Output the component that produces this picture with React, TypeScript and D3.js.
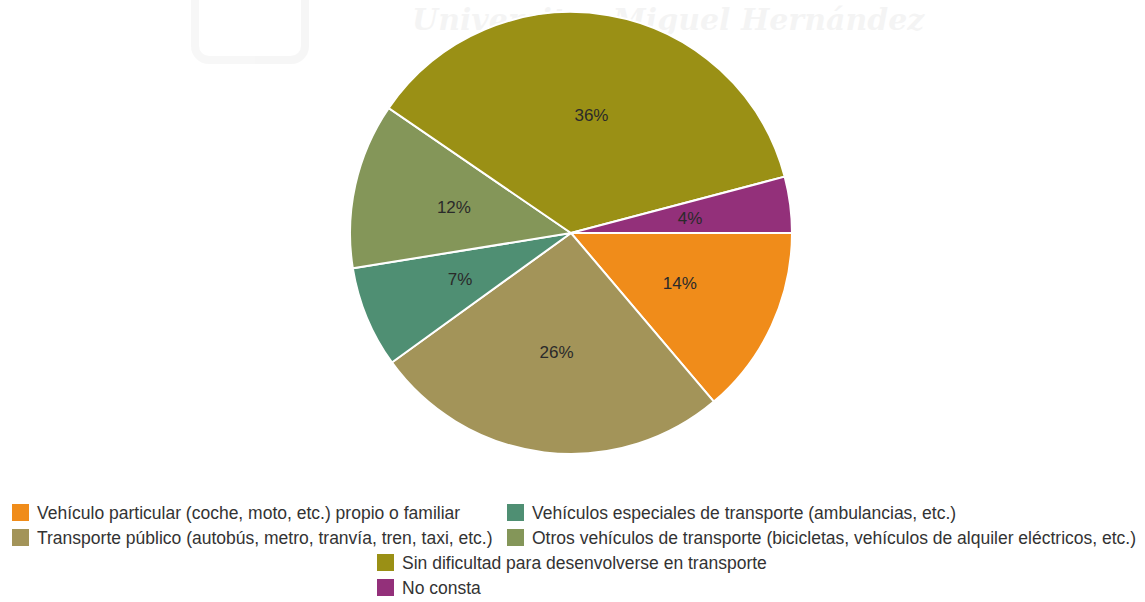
import React from "react";
import * as d3 from "d3";

const categories = [
  "Vehículo particular (coche, moto, etc.) propio o familiar",
  "Transporte público (autobús, metro, tranvía, tren, taxi, etc.)",
  "Vehículos especiales de transporte (ambulancias, etc.)",
  "Otros vehículos de transporte (bicicletas, vehículos de alquiler eléctricos, etc.)",
  "Sin dificultad para desenvolverse en transporte",
  "No consta",
];
const values = [13.8, 26.2, 7.4, 12.1, 36.3, 4.1];
const colors = ["#f08c1a", "#a39459", "#4f8f73", "#849659", "#9a9015", "#93307a"];

// legend layout (order in legend: 0,2 / 1,3 / 4 / 5)
const legendSlots = [
  { idx: 0, x: 12, y: 513 },
  { idx: 2, x: 507, y: 513 },
  { idx: 1, x: 12, y: 538 },
  { idx: 3, x: 507, y: 538 },
  { idx: 4, x: 377, y: 563 },
  { idx: 5, x: 377, y: 588 },
];

export default function App() {
  const W = 1145, H = 602;
  const cx = 571, cy = 233, r = 221;
  const data = values.map((v, i) => ({ v, i }));
  const total = d3.sum(values);
  const pie = d3
    .pie<{ v: number; i: number }>()
    .value((d) => d.v)
    .sort(null)
    .startAngle(Math.PI / 2)
    .endAngle(Math.PI / 2 + 2 * Math.PI);
  const arcs = pie(data);
  const arc = d3.arc<d3.PieArcDatum<{ v: number; i: number }>>().innerRadius(0).outerRadius(r);
  const labelArc = d3.arc<d3.PieArcDatum<{ v: number; i: number }>>().innerRadius(120).outerRadius(120);

  return (
    <svg
      width={W}
      height={H}
      style={{ position: "absolute", left: 0, top: 0, background: "#fff" }}
      fontFamily="Arial, 'Liberation Sans', sans-serif"
    >
      <g opacity={0.06}>
        <rect x={195} y={-20} width={110} height={80} rx={14} fill="none" stroke="#777" strokeWidth={8} />
        <text x={412} y={30} fontSize={30} fontWeight="bold" fontStyle="italic" fill="#555" fontFamily="'DejaVu Serif', serif">
          Universitas Miguel Hernández
        </text>
      </g>
      <g transform={`translate(${cx},${cy})`}>
        {arcs.map((a) => (
          <path key={a.data.i} d={arc(a) || ""} fill={colors[a.data.i]} stroke="#fff" strokeWidth={2} />
        ))}
        {arcs.map((a) => {
          const [lx, ly] = labelArc.centroid(a);
          return (
            <text key={"l" + a.data.i} x={lx} y={ly} dy="0.35em" textAnchor="middle" fontSize={17} fill="#2a2a2a">
              {Math.round((a.data.v / total) * 100)}%
            </text>
          );
        })}
      </g>
      <g>
        {legendSlots.map((s) => (
          <g key={"lg" + s.idx}>
            <rect x={s.x} y={s.y - 9} width={17} height={17} fill={colors[s.idx]} />
            <text x={s.x + 25} y={s.y} dy="0.35em" fontSize={17.5} fill="#333">
              {categories[s.idx]}
            </text>
          </g>
        ))}
      </g>
    </svg>
  );
}
